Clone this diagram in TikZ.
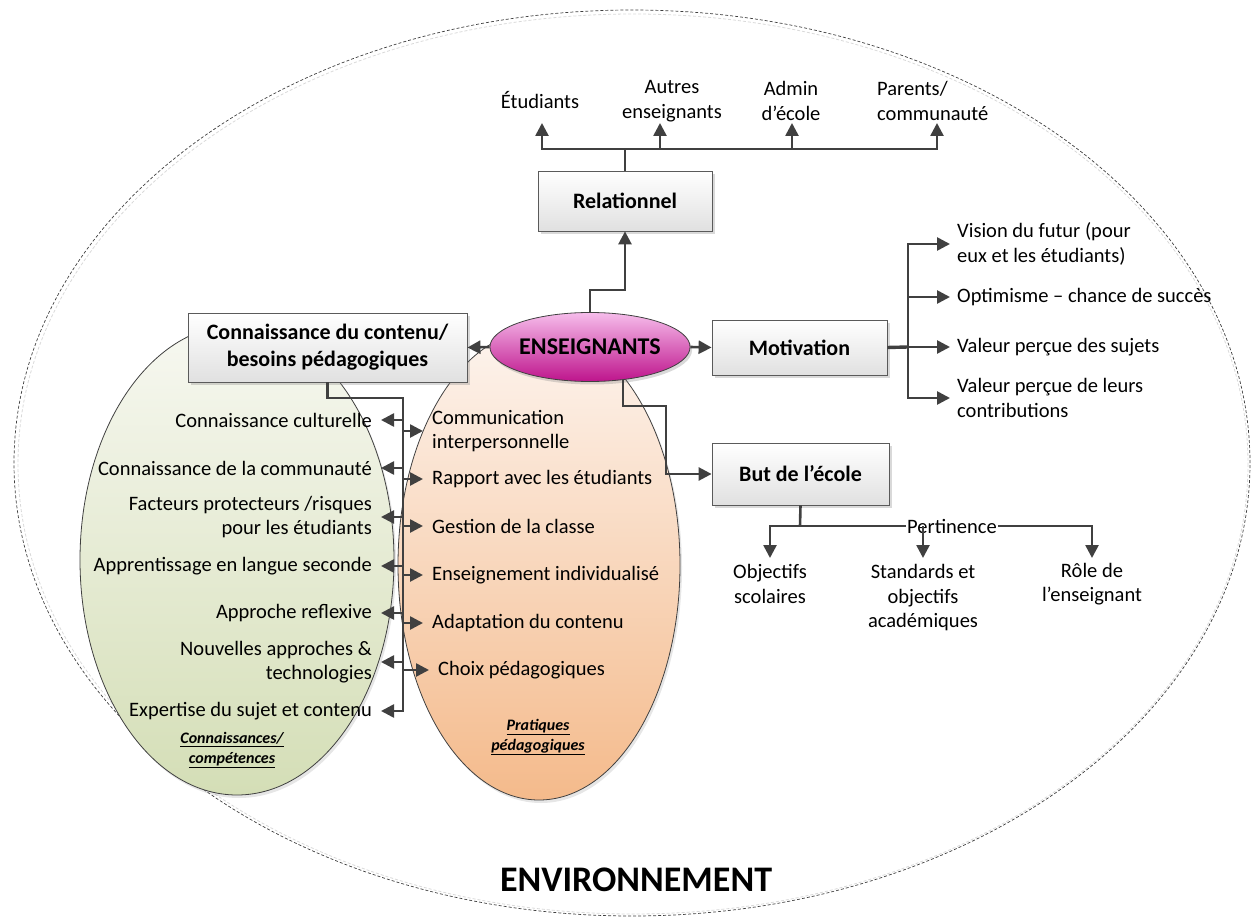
\documentclass[tikz,border=0pt]{standalone}
\usepackage{fontspec}
\setmainfont{Carlito}
\usetikzlibrary{arrows.meta,shadows,shapes.geometric,calc}
\definecolor{ln}{HTML}{404040}
\definecolor{bd}{HTML}{5A5A5A}
\definecolor{gtop}{HTML}{F7F8F1}
\definecolor{gbot}{HTML}{D4DEB6}
\definecolor{otop}{HTML}{FDF4EE}
\definecolor{obot}{HTML}{F4BA8B}
\definecolor{mtop}{HTML}{F6BDEB}
\definecolor{mbot}{HTML}{BE148C}
\begin{document}
\begin{tikzpicture}[x=1pt,y=-1pt,
  every node/.style={font=\fontsize{20.5}{24.5}\selectfont},
  conn/.style={draw=ln,line width=2.6pt},
  arr/.style={conn,-{Triangle[length=13pt,width=13pt]}},
  box/.style={draw=bd,line width=0.8pt,top color=white,bottom color=black!12,align=center,inner sep=0pt,
    font=\fontsize{22}{27}\selectfont\bfseries,
    drop shadow={shadow xshift=3pt,shadow yshift=-3pt,opacity=0.3}},
  lft/.style={anchor=east,align=right,inner xsep=9pt,inner ysep=0pt},
  rgt/.style={anchor=west,align=left,inner xsep=9pt,inner ysep=0pt},
  plain/.style={align=center,inner sep=0pt},
  capt/.style={align=center,inner sep=0pt,font=\fontsize{16}{19.5}\selectfont\bfseries\itshape},
  oval/.style={ellipse,draw=ln,line width=0.8pt,inner sep=0pt,
    drop shadow={shadow xshift=2pt,shadow yshift=-3pt,opacity=0.2}}
]
\useasboundingbox (0,0) rectangle (1251,917);

% environment
\draw[black!15,line width=0.8pt,dash pattern=on 3pt off 2pt] (633,464) ellipse [x radius=615,y radius=450];
\node[ellipse,draw=ln,line width=0.7pt,dash pattern=on 3pt off 2pt,minimum width=1236pt,minimum height=906pt,inner sep=0pt] (env) at (632,463) {};
\node[font=\fontsize{36}{40}\selectfont\bfseries,inner sep=0pt] (envlbl) at (636,880) {ENVIRONNEMENT};

% domain ellipses
\node[oval,top color=gtop,bottom color=gbot,minimum width=314pt,minimum height=470pt] (know) at (237,560) {};
\node[oval,top color=otop,bottom color=obot,minimum width=282pt,minimum height=470pt] (prac) at (539,565) {};
\node[capt] (knowlbl) at (232,750) {\underline{Connaissances/}\\\underline{compétences}};
\node[capt] (praclbl) at (538,737) {\underline{Pratiques}\\\underline{pédagogiques}};

% central
\node[ellipse,draw=ln,line width=0.8pt,top color=mtop,bottom color=mbot,minimum width=187pt,minimum height=69pt,inner sep=0pt,
  font=\fontsize{24}{28}\selectfont\bfseries,drop shadow={shadow xshift=2pt,shadow yshift=-3pt,opacity=0.3}] (ens) at (590,347) {ENSEIGNANTS};

% boxes
\node[box,minimum width=174pt,minimum height=60pt] (rel) at (625,201) {Relationnel};
\node[box,minimum width=279pt,minimum height=69pt] (ccb) at (327.5,347.5) {Connaissance du contenu/\\besoins pédagogiques};
\node[box,minimum width=175pt,minimum height=55pt] (mot) at (799.5,347.5) {Motivation};
\node[box,minimum width=177pt,minimum height=62pt] (but) at (800.5,474) {But de l’école};

% top labels
\node[plain] (etud) at (540,100) {Étudiants};
\node[plain] (autres) at (672,101) {Autres\\enseignants};
\node[plain] (admin) at (791,101) {Admin\\d’école};
\node[plain,anchor=west,align=left] (par) at (877,101) {Parents/\\communauté};
\coordinate (tE) at (542,123);
\coordinate (tA) at (660,123);
\coordinate (tD) at (792,123);
\coordinate (tP) at (937,123);
\coordinate (bus) at (625,149);

% motivation labels
\node[rgt,inner xsep=7pt] (m1) at (950,244) {Vision du futur (pour\\eux et les étudiants)};
\node[rgt,inner xsep=7pt] (m2) at (950,297) {Optimisme – chance de succès};
\node[rgt,inner xsep=7pt] (m3) at (950,347) {Valeur perçue des sujets};
\node[rgt,inner xsep=7pt] (m4) at (950,398) {Valeur perçue de leurs\\contributions};
\coordinate (mj) at (908,347);

% but labels
\node[plain] (o1) at (770,584) {Objectifs\\scolaires};
\node[plain] (s1) at (923,598) {Standards et\\objectifs\\académiques};
\node[plain] (r1) at (1092,584) {Rôle de\\l’enseignant};
\coordinate (bj) at (800,526);
\coordinate (o1t) at (770,558);
\coordinate (s1t) at (923,558);
\coordinate (r1t) at (1092,558);

% left list
\node[lft] (k1) at (381,420) {Connaissance culturelle};
\node[lft] (k2) at (381,468) {Connaissance de la communauté};
\node[lft] (k3) at (381,517) {Facteurs protecteurs /risques\\pour les étudiants};
\node[lft] (k4) at (381,566) {Apprentissage en langue seconde};
\node[lft] (k5) at (381,613) {Approche reflexive};
\node[lft] (k6) at (381,662) {Nouvelles approches \&\\technologies};
\node[lft] (k7) at (381,711) {Expertise du sujet et contenu};

% right list
\node[rgt] (p1) at (423,431) {Communication\\interpersonnelle};
\node[rgt] (p2) at (423,479) {Rapport avec les étudiants};
\node[rgt] (p3) at (423,526) {Gestion de la classe};
\node[rgt] (p4) at (423,575) {Enseignement individualisé};
\node[rgt] (p5) at (423,623) {Adaptation du contenu};
\node[rgt] (p6) at (429,670) {Choix pédagogiques};
\coordinate (vtop) at (403,398);

% connectors: central
\draw[arr] (ens.north) -- ++(0,-22) -| (rel.south);
\draw[arr] (ens.west) -- (ccb.east);
\draw[arr] (ens.east) -- (mot.west);
\draw[arr] (ens.-45) -- ++(0,26) -| (666,474) -- (but.west);

% relationnel
\draw[conn] (rel.north) -- (bus);
\draw[arr] (bus) -| (tE);
\draw[arr] (bus) -| (tP);
\draw[arr] (tA |- bus) -- (tA);
\draw[arr] (tD |- bus) -- (tD);

% motivation
\draw[conn,line width=3.4pt] (mot.east) -- (mj);
\draw[arr] (mj) |- (m1.west);
\draw[arr] (mj) |- (m4.west);
\draw[arr] (mj |- m2.west) -- (m2.west);
\draw[arr] (mj) -- (m3.west);

% but
\draw[conn] (but.south) -- (bj);
\draw[arr] (bj) -| (o1t);
\draw[arr] (bj) -| (r1t);
\node[fill=white,inner xsep=1pt,inner ysep=0pt] (pert) at (952,526) {Pertinence};
\draw[arr] (s1t |- bj) -- (s1t);

% knowledge tree
\draw[arr] (ccb.south) |- (vtop) -- (vtop |- k7.east) -- (k7.east);
\foreach \k in {k1,k2,k3,k4,k5,k6} \draw[arr] (vtop |- \k.east) -- (\k.east);
\foreach \p in {p1,p2,p3,p4,p5,p6} \draw[arr] (vtop |- \p.west) -- (\p.west);
\end{tikzpicture}
\end{document}
